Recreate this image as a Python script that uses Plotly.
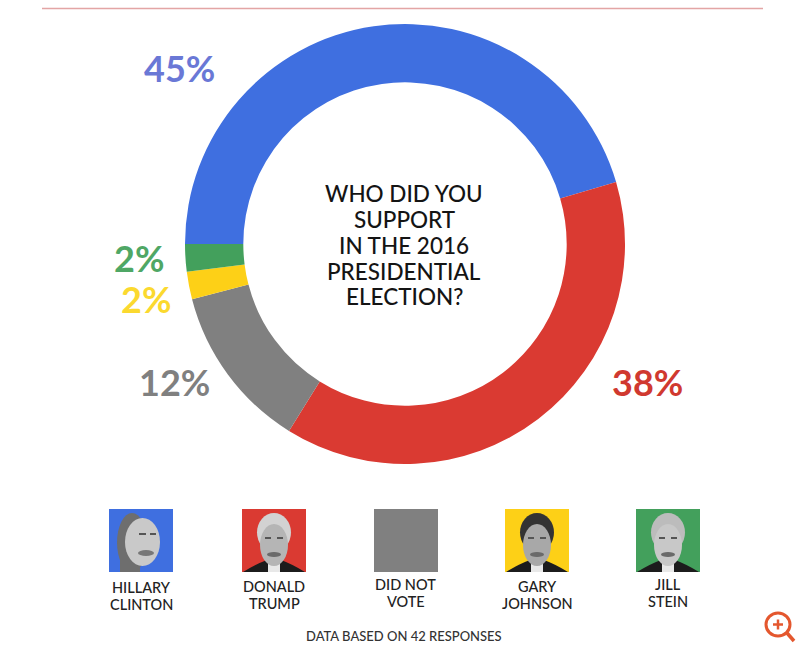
import plotly.graph_objects as go

W, H = 800, 647
categories = ["Hillary Clinton", "Donald Trump", "Did not vote", "Gary Johnson", "Jill Stein"]
percent = [45, 38, 12, 2, 2]
colors = ["#3f6fe0", "#da3a32", "#808080", "#fdd017", "#43a05c"]
pct_labels = ["45%", "38%", "12%", "2%", "2%"]
pct_colors = ["#6a78d6", "#d0392f", "#808080", "#fbd92f", "#4fa765"]
pct_xy = [(179, 68), (647, 382), (174, 382), (146, 299), (139, 258)]
legend_names = [["HILLARY", "CLINTON"], ["DONALD", "TRUMP"], ["DID NOT", "VOTE"], ["GARY", "JOHNSON"], ["JILL", "STEIN"]]
legend_cx = [141, 274, 406, 537, 668]
legend_ty = [587, 586, 584, 586, 584]
center_lines = ["WHO DID YOU", "SUPPORT", "IN THE 2016", "PRESIDENTIAL", "ELECTION?"]
center_y = [193, 219, 245, 271, 297]


def px(x):
    return x / W


def py(y):
    return 1 - y / H


fig = go.Figure(go.Pie(
    labels=categories, values=percent, sort=False, direction="clockwise", rotation=270,
    hole=0.735, textinfo="none", hoverinfo="label+percent",
    marker=dict(colors=colors, line=dict(width=0)),
    domain=dict(x=[px(185), px(625)], y=[py(464), py(24)]),
))

shapes = [dict(type="line", xref="paper", yref="paper", x0=px(42), x1=px(763), y0=py(8.5), y1=py(8.5),
               line=dict(color="#e3a5a5", width=1.5))]


def rect(x0, y0, x1, y1, c):
    return dict(type="rect", xref="paper", yref="paper", x0=px(x0), x1=px(x1), y0=py(y0), y1=py(y1),
                fillcolor=c, line=dict(width=0))


def oval(x0, y0, x1, y1, c):
    return dict(type="circle", xref="paper", yref="paper", x0=px(x0), x1=px(x1), y0=py(y0), y1=py(y1),
                fillcolor=c, line=dict(width=0))


def portrait(cx, hair, face, suit):
    out = [dict(type="path", xref="paper", yref="paper",
                path=f"M {px(cx-31)} {py(572)} Q {px(cx-18)} {py(564)} {px(cx-7)} {py(560)} L {px(cx+7)} {py(560)} "
                     f"Q {px(cx+18)} {py(564)} {px(cx+31)} {py(572)} Z",
                fillcolor=suit, line=dict(width=0))]
    out.append(rect(cx-6, 556, cx+6, 572, "#e8e8e8"))
    out.append(oval(cx-17, 513, cx+17, 552, hair))
    out.append(oval(cx-14, 524, cx+14, 566, face))
    out.append(rect(cx-9, 537, cx-3, 539, "#555555"))
    out.append(rect(cx+3, 537, cx+9, 539, "#555555"))
    out.append(oval(cx-7, 552, cx+7, 557, "#6a6a6a"))
    return out


for cx, c in zip(legend_cx, colors):
    shapes.append(rect(cx-32, 509, cx+32, 572, c))
shapes += [oval(117, 513, 147, 572, "#6e6e6e"), rect(120, 550, 140, 572, "#6e6e6e"),
           oval(125, 518, 160, 566, "#c9c9c9"), oval(138, 550, 154, 556, "#777777"),
           rect(139, 533, 146, 535, "#555555"), rect(150, 533, 156, 535, "#555555")]
shapes += portrait(274, "#d2d2d2", "#b5b5b5", "#1c1c1c")
shapes += portrait(537, "#333333", "#a8a8a8", "#1c1c1c")
shapes += portrait(668, "#bcbcbc", "#c8c8c8", "#1c1c1c")
# magnifier icon
shapes.append(dict(type="circle", xref="paper", yref="paper", x0=px(766), x1=px(790), y0=py(613), y1=py(636),
                   fillcolor="rgba(0,0,0,0)", line=dict(color="#e4572e", width=3)))
shapes.append(dict(type="line", xref="paper", yref="paper", x0=px(787), x1=px(794), y0=py(633), y1=py(641),
                   line=dict(color="#e4572e", width=3.5)))
shapes.append(dict(type="line", xref="paper", yref="paper", x0=px(773), x1=px(783), y0=py(624.5), y1=py(624.5),
                   line=dict(color="#e4572e", width=2.5)))
shapes.append(dict(type="line", xref="paper", yref="paper", x0=px(778), x1=px(778), y0=py(619.5), y1=py(629.5),
                   line=dict(color="#e4572e", width=2.5)))

ann = []


def text(x, y, s, size, color="#1c1c1c", weight=500):
    ann.append(dict(x=px(x), y=py(y), xref="paper", yref="paper", text=s, showarrow=False,
                    xanchor="center", yanchor="middle", align="center",
                    font=dict(family="Lato, sans-serif", size=size, color=color, weight=weight)))


for (x, y), s, c in zip(pct_xy, pct_labels, pct_colors):
    text(x, y, s, 36, c, 700)
for y, line in zip(center_y, center_lines):
    text(404, y, line, 22.5, "#141414")
for cx, ty, pair in zip(legend_cx, legend_ty, legend_names):
    text(cx, ty, pair[0], 14.5, "#222222")
    text(cx, ty + 17.5, pair[1], 14.5, "#222222")
text(404, 636, "DATA BASED ON 42 RESPONSES", 13, "#333333")

fig.update_layout(width=W, height=H, margin=dict(l=0, r=0, t=0, b=0), showlegend=False,
                  paper_bgcolor="white", shapes=shapes, annotations=ann)
fig.write_html("out.html", config=dict(displayModeBar=False),
               post_script="document.body.style.margin='0';document.documentElement.style.overflow='hidden';")
